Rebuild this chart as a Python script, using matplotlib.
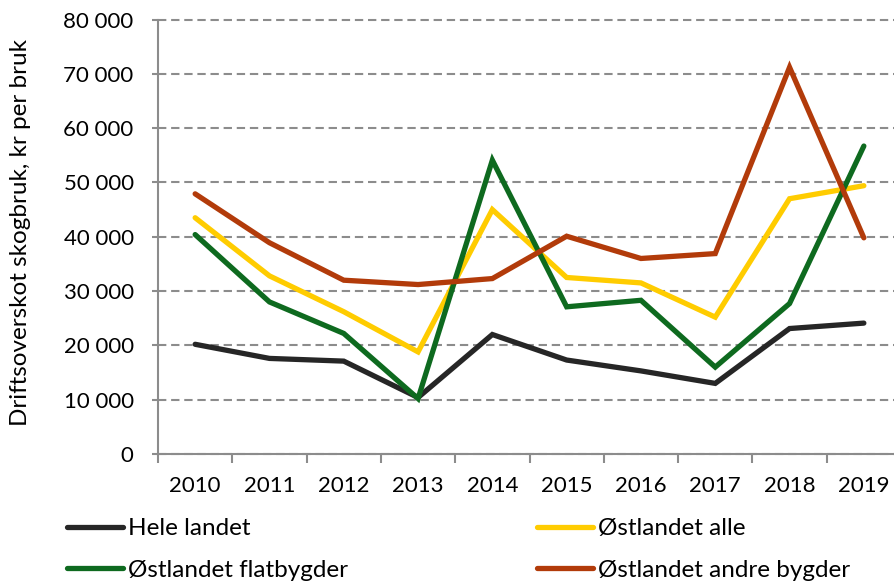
import matplotlib
matplotlib.use("Agg")
import matplotlib.pyplot as plt
from matplotlib.ticker import FuncFormatter, MultipleLocator, FixedLocator

plt.rcParams['font.family'] = ['Lato', 'DejaVu Sans']

years = [2010, 2011, 2012, 2013, 2014, 2015, 2016, 2017, 2018, 2019]
hele_landet = [20200, 17600, 17100, 10400, 22000, 17300, 15300, 13000, 23100, 24100]
ostlandet_alle = [43500, 32800, 26200, 18800, 45000, 32500, 31500, 25200, 47000, 49400]
ostlandet_flat = [40400, 28000, 22200, 10200, 54100, 27100, 28300, 16000, 27700, 56700]
ostlandet_andre = [47900, 38900, 32000, 31200, 32300, 40100, 36000, 36900, 71200, 39800]

series = [
    ("Hele landet", hele_landet, "#262626"),
    ("Østlandet alle", ostlandet_alle, "#FFCC00"),
    ("Østlandet flatbygder", ostlandet_flat, "#0E6A1F"),
    ("Østlandet andre bygder", ostlandet_andre, "#B23B0A"),
]

W, H = 894, 581
fig = plt.figure(figsize=(W / 100, H / 100), dpi=100)
fig.patch.set_facecolor("white")

left_px, right_px, top_px, bottom_px = 158, 901, 19.5, 454
ax = fig.add_axes([left_px / W, 1 - bottom_px / H,
                   (right_px - left_px) / W, (bottom_px - top_px) / H])

x = list(range(len(years)))
handles = {}
for name, vals, col in series:
    ln, = ax.plot(x, vals, color=col, lw=3.8, solid_capstyle="round",
                  solid_joinstyle="miter", zorder=3, label=name)
    handles[name] = ln

ax.set_xlim(-0.5, len(years) - 0.5)
ax.set_ylim(0, 80000)

grid_col = "#8c8c8c"
ax.yaxis.set_major_locator(MultipleLocator(10000))
ax.yaxis.set_major_formatter(FuncFormatter(lambda v, p: f"{int(v):,}".replace(",", " ")))
ax.grid(axis="y", color=grid_col, lw=1.5, linestyle=(0, (4, 2.3)), zorder=1)
for gl in ax.yaxis.get_gridlines():
    gl.set_clip_on(False)
ax.set_axisbelow(True)

ax.xaxis.set_major_locator(FixedLocator(x))
ax.set_xticklabels([str(y) for y in years])
ax.xaxis.set_minor_locator(FixedLocator([i - 0.5 for i in range(len(years) + 1)]))
ax.tick_params(axis="x", which="major", length=0, pad=16, labelsize=16, colors="black")
ax.tick_params(axis="x", which="minor", length=6.5, width=1.5, color=grid_col, direction="out")
ax.tick_params(axis="y", which="major", length=4.5, width=1.5, color=grid_col,
               direction="out", pad=13, labelsize=16, labelcolor="black")

for s in ["top", "right"]:
    ax.spines[s].set_visible(False)
for s in ["left", "bottom"]:
    ax.spines[s].set_color(grid_col)
    ax.spines[s].set_linewidth(1.5)
    ax.spines[s].set_zorder(2)

fig.text(21 / W, 1 - 233 / H, "Driftsoverskot skogbruk, kr per bruk",
         rotation=90, ha="center", va="center", fontsize=17.5)

leg_kw = dict(frameon=False, fontsize=17.5, handlelength=2.3, handletextpad=0.22,
              labelspacing=0.85, borderpad=0, borderaxespad=0, loc="upper left")
leg1 = fig.legend([handles["Hele landet"], handles["Østlandet flatbygder"]],
                  ["Hele landet", "Østlandet flatbygder"],
                  bbox_to_anchor=(67 / W, 1 - 518 / H), **leg_kw)
leg2 = fig.legend([handles["Østlandet alle"], handles["Østlandet andre bygder"]],
                  ["Østlandet alle", "Østlandet andre bygder"],
                  bbox_to_anchor=(537 / W, 1 - 518 / H), **leg_kw)

fig.savefig("out.png", dpi=100, facecolor="white")
